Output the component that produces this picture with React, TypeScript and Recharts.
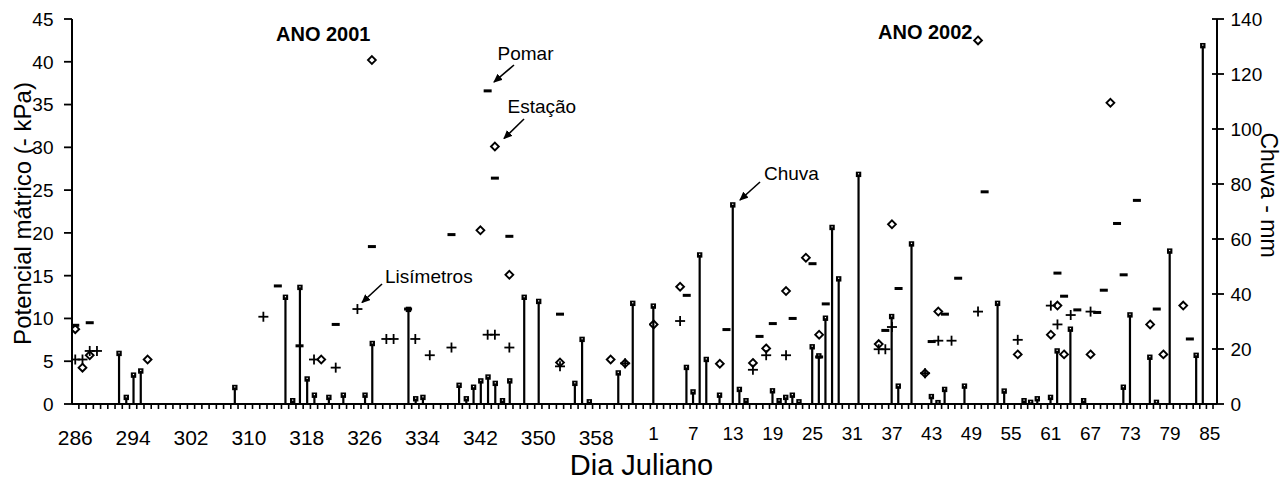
import React from 'react';
import { ComposedChart, Bar, Scatter, XAxis, YAxis } from 'recharts';

type Pt = { d: number; v: number };

const FONT = '"Liberation Sans", Arial, Helvetica, sans-serif';

// ---------- categories / tick labels ----------
const days2001: number[] = [];
for (let d = 286; d <= 365; d++) days2001.push(d);
const days2002: number[] = [];
for (let d = 1; d <= 86; d++) days2002.push(d);

const labelDays2001 = [286, 294, 302, 310, 318, 326, 334, 342, 350, 358];
const labelDays2002 = [1, 7, 13, 19, 25, 31, 37, 43, 49, 55, 61, 67, 73, 79, 85];
const potTicks = [0, 5, 10, 15, 20, 25, 30, 35, 40, 45];
const rainTicks = [0, 20, 40, 60, 80, 100, 120, 140];

// ---------- 2001 ----------
const rain2001: Pt[] = [
  { d: 292, v: 18.4 }, { d: 293, v: 2.4 }, { d: 294, v: 10.5 }, { d: 295, v: 12 },
  { d: 308, v: 6 }, { d: 315, v: 38.8 }, { d: 316, v: 1.2 }, { d: 317, v: 42.4 },
  { d: 318, v: 9.1 }, { d: 319, v: 3.2 }, { d: 321, v: 2.4 }, { d: 323, v: 3.2 },
  { d: 326, v: 3.2 }, { d: 327, v: 22 }, { d: 332, v: 34.4 }, { d: 333, v: 1.9 },
  { d: 334, v: 2.4 }, { d: 339, v: 6.8 }, { d: 340, v: 1.9 }, { d: 341, v: 6.1 },
  { d: 342, v: 8.4 }, { d: 343, v: 9.8 }, { d: 344, v: 7.5 }, { d: 345, v: 1.2 },
  { d: 346, v: 8.4 }, { d: 348, v: 38.8 }, { d: 350, v: 37.3 }, { d: 355, v: 7.5 },
  { d: 356, v: 23.5 }, { d: 357, v: 0.8 }, { d: 361, v: 11.3 }, { d: 363, v: 36.6 },
];
const pomar2001: Pt[] = [
  { d: 286, v: 9.2 }, { d: 288, v: 9.5 }, { d: 314, v: 13.8 }, { d: 317, v: 6.8 },
  { d: 322, v: 9.3 }, { d: 327, v: 18.4 }, { d: 332, v: 11.1 }, { d: 338, v: 19.8 },
  { d: 343, v: 36.6 }, { d: 344, v: 26.4 }, { d: 346, v: 19.6 }, { d: 353, v: 10.5 },
];
const estacao2001: Pt[] = [
  { d: 286, v: 8.75 }, { d: 287, v: 4.25 }, { d: 288, v: 5.7 }, { d: 296, v: 5.2 },
  { d: 320, v: 5.2 }, { d: 327, v: 40.2 }, { d: 342, v: 20.3 }, { d: 344, v: 30.1 },
  { d: 346, v: 15.1 }, { d: 353, v: 4.85 }, { d: 360, v: 5.2 }, { d: 362, v: 4.75 },
];
const lis2001: Pt[] = [
  { d: 286, v: 5.2 }, { d: 287, v: 5.2 }, { d: 288, v: 6.2 }, { d: 289, v: 6.2 },
  { d: 312, v: 10.2 }, { d: 319, v: 5.2 }, { d: 322, v: 4.25 }, { d: 325, v: 11.1 },
  { d: 329, v: 7.6 }, { d: 330, v: 7.6 }, { d: 333, v: 7.6 }, { d: 335, v: 5.7 },
  { d: 338, v: 6.6 }, { d: 343, v: 8.1 }, { d: 344, v: 8.1 }, { d: 346, v: 6.6 },
  { d: 353, v: 4.4 }, { d: 362, v: 4.75 },
];

// ---------- 2002 ----------
const rain2002: Pt[] = [
  { d: 1, v: 35.6 }, { d: 6, v: 13.3 }, { d: 7, v: 4.4 }, { d: 8, v: 54.2 },
  { d: 9, v: 16.2 }, { d: 11, v: 3.2 }, { d: 13, v: 72.4 }, { d: 14, v: 5.3 },
  { d: 15, v: 1.2 }, { d: 19, v: 4.8 }, { d: 20, v: 1.2 }, { d: 21, v: 2.4 },
  { d: 22, v: 3.2 }, { d: 23, v: 0.8 }, { d: 25, v: 20.8 }, { d: 26, v: 17.5 },
  { d: 27, v: 31.2 }, { d: 28, v: 64.2 }, { d: 29, v: 45.5 }, { d: 32, v: 83.5 },
  { d: 37, v: 31.8 }, { d: 38, v: 6.5 }, { d: 40, v: 58.2 }, { d: 43, v: 2.7 },
  { d: 44, v: 0.5 }, { d: 45, v: 5.3 }, { d: 48, v: 6.5 }, { d: 53, v: 36.6 },
  { d: 54, v: 4.7 }, { d: 57, v: 1.2 }, { d: 58, v: 0.6 }, { d: 59, v: 1.9 },
  { d: 61, v: 2.4 }, { d: 62, v: 19.3 }, { d: 64, v: 27.2 }, { d: 66, v: 1.2 },
  { d: 72, v: 6.1 }, { d: 73, v: 32.4 }, { d: 76, v: 17 }, { d: 77, v: 0.6 },
  { d: 79, v: 55.6 }, { d: 83, v: 17.7 }, { d: 84, v: 130.3 },
];
const pomar2002: Pt[] = [
  { d: 6, v: 12.7 }, { d: 12, v: 8.7 }, { d: 17, v: 7.9 }, { d: 19, v: 9.4 },
  { d: 22, v: 10.0 }, { d: 25, v: 16.4 }, { d: 26, v: 5.5 }, { d: 27, v: 11.7 },
  { d: 36, v: 8.6 }, { d: 38, v: 13.5 }, { d: 43, v: 7.3 }, { d: 45, v: 10.5 },
  { d: 47, v: 14.7 }, { d: 51, v: 24.8 }, { d: 62, v: 15.3 }, { d: 63, v: 12.6 },
  { d: 65, v: 11.0 }, { d: 68, v: 10.7 }, { d: 69, v: 13.3 }, { d: 71, v: 21.1 },
  { d: 72, v: 15.1 }, { d: 74, v: 23.8 }, { d: 77, v: 11.1 }, { d: 82, v: 7.6 },
];
const estacao2002: Pt[] = [
  { d: 1, v: 9.3 }, { d: 5, v: 13.7 }, { d: 11, v: 4.7 }, { d: 16, v: 4.8 },
  { d: 18, v: 6.5 }, { d: 21, v: 13.2 }, { d: 24, v: 17.1 }, { d: 26, v: 8.1 },
  { d: 35, v: 7.0 }, { d: 37, v: 21.0 }, { d: 42, v: 3.6 }, { d: 44, v: 10.8 },
  { d: 50, v: 42.5 }, { d: 56, v: 5.8 }, { d: 61, v: 8.1 }, { d: 62, v: 11.5 },
  { d: 63, v: 5.8 }, { d: 67, v: 5.8 }, { d: 70, v: 35.2 }, { d: 76, v: 9.3 },
  { d: 78, v: 5.8 }, { d: 81, v: 11.5 },
];
const lis2002: Pt[] = [
  { d: 5, v: 9.7 }, { d: 16, v: 4.0 }, { d: 18, v: 5.7 }, { d: 21, v: 5.7 },
  { d: 35, v: 6.4 }, { d: 36, v: 6.4 }, { d: 37, v: 9.0 }, { d: 42, v: 3.6 },
  { d: 44, v: 7.4 }, { d: 46, v: 7.4 }, { d: 50, v: 10.8 }, { d: 56, v: 7.5 },
  { d: 61, v: 11.5 }, { d: 62, v: 9.3 }, { d: 64, v: 10.4 }, { d: 67, v: 10.8 },
];

const DOMAIN_2001: [number, number] = [285.55, 365.3];
const DOMAIN_2002: [number, number] = [0.3, 86.1];

const ticks2001 = [
  ...labelDays2001,
  ...days2001.map((d) => d + 0.5).filter((t) => t > DOMAIN_2001[0] && t < DOMAIN_2001[1]),
].sort((a, b) => a - b);
const ticks2002 = [
  ...labelDays2002,
  ...days2002.map((d) => d - 0.5).filter((t) => t > DOMAIN_2002[0] && t < DOMAIN_2002[1]),
].sort((a, b) => a - b);

// ---------- shapes ----------
const RainShape = (p: any) => {
  const { x, y, width, height } = p;
  if (x == null || y == null) return <g />;
  const cx = x + width / 2;
  return (
    <g>
      <rect x={cx - 1.1} y={y} width={2.2} height={Math.max(height, 0)} fill="#000" />
      <rect x={cx - 2.7} y={y - 2.7} width={5.4} height={5.4} fill="#000" />
      <rect x={cx - 0.6} y={y - 1.2} width={1.2} height={1.2} fill="#fff" />
    </g>
  );
};
const DashShape = (p: any) => (
  <rect x={p.cx - 4} y={p.cy - 1.5} width={8} height={3} fill="#000" />
);
const DiamondShape = (p: any) => {
  const { cx, cy } = p;
  const r = 3.9;
  return (
    <polygon
      points={`${cx},${cy - r} ${cx + r},${cy} ${cx},${cy + r} ${cx - r},${cy}`}
      fill="#fff"
      fillOpacity={0}
      stroke="#000"
      strokeWidth={1.9}
    />
  );
};
const PlusShape = (p: any) => {
  const { cx, cy } = p;
  return (
    <g stroke="#000" strokeWidth={1.8}>
      <line x1={cx - 5} y1={cy} x2={cx + 5} y2={cy} />
      <line x1={cx} y1={cy - 5} x2={cx} y2={cy + 5} />
    </g>
  );
};

// ---------- ticks ----------
const makeXTick = (labels: number[], fontSize: number, dy: number) => (p: any) => {
  const { x, y, payload } = p;
  const v = payload.value;
  if (labels.includes(v)) {
    return (
      <text x={x} y={y + dy} textAnchor="middle" fontSize={fontSize} fontFamily={FONT} fill="#000">
        {v}
      </text>
    );
  }
  return <line x1={x} y1={y} x2={x} y2={y + 5} stroke="#000" strokeWidth={1.6} />;
};
const LeftTick = (p: any) => {
  const { x, y, payload } = p;
  return (
    <g>
      <line x1={x - 8} y1={y} x2={x} y2={y} stroke="#000" strokeWidth={1.8} />
      <text x={x - 18.5} y={y} dy="0.36em" textAnchor="end" fontSize={19} fontFamily={FONT} fill="#000">
        {payload.value}
      </text>
    </g>
  );
};
const RightTick = (p: any) => {
  const { x, y, payload } = p;
  return (
    <g>
      <line x1={x - 5} y1={y} x2={x + 7} y2={y} stroke="#000" strokeWidth={1.8} />
      <text x={x + 13.5} y={y} dy="0.36em" textAnchor="start" fontSize={19} fontFamily={FONT} fill="#000">
        {payload.value}
      </text>
    </g>
  );
};

const axisLine = { stroke: '#000', strokeWidth: 2 };

const Arrow = ({ x1, y1, x2, y2 }: { x1: number; y1: number; x2: number; y2: number }) => (
  <line x1={x1} y1={y1} x2={x2} y2={y2} stroke="#000" strokeWidth={1.6} markerEnd="url(#ah)" />
);

export default function App() {
  return (
    <div style={{ position: 'absolute', left: 0, top: 0, width: 1284, height: 482, background: '#fff' }}>
      <div style={{ position: 'absolute', left: 0, top: 0 }}>
        <ComposedChart width={660} height={482} data={rain2001} margin={{ top: 19, right: 11, bottom: 0, left: 12 }}>
          <XAxis
            xAxisId="x"
            dataKey="d"
            type="number"
            domain={DOMAIN_2001}
            allowDataOverflow
            ticks={ticks2001}
            interval={0}
            tickSize={0}
            tickMargin={0}
            tickLine={false}
            axisLine={axisLine}
            height={78}
            tick={makeXTick(labelDays2001, 21, 41)}
          />
          <YAxis
            yAxisId="pot"
            orientation="left"
            width={60}
            type="number"
            domain={[0, 45]}
            allowDataOverflow
            ticks={potTicks}
            interval={0}
            tickSize={0}
            tickMargin={0}
            tickLine={false}
            axisLine={axisLine}
            tick={LeftTick}
          />
          <YAxis yAxisId="rain" orientation="right" hide type="number" domain={[0, 140]} allowDataOverflow />
          <Bar xAxisId="x" yAxisId="rain" dataKey="v" barSize={2} shape={RainShape} isAnimationActive={false} />
          <Scatter xAxisId="x" yAxisId="pot" data={pomar2001} dataKey="v" shape={DashShape} isAnimationActive={false} />
          <Scatter xAxisId="x" yAxisId="pot" data={estacao2001} dataKey="v" shape={DiamondShape} isAnimationActive={false} />
          <Scatter xAxisId="x" yAxisId="pot" data={lis2001} dataKey="v" shape={PlusShape} isAnimationActive={false} />
        </ComposedChart>
      </div>
      <div style={{ position: 'absolute', left: 640, top: 0 }}>
        <ComposedChart width={644} height={482} data={rain2002} margin={{ top: 19, right: 0, bottom: 0, left: 9 }}>
          <XAxis
            xAxisId="x"
            dataKey="d"
            type="number"
            domain={DOMAIN_2002}
            allowDataOverflow
            ticks={ticks2002}
            interval={0}
            tickSize={0}
            tickMargin={0}
            tickLine={false}
            axisLine={axisLine}
            height={78}
            tick={makeXTick(labelDays2002, 19, 36)}
          />
          <YAxis
            yAxisId="pot"
            orientation="left"
            width={0}
            type="number"
            domain={[0, 45]}
            allowDataOverflow
            tick={false}
            tickLine={false}
            axisLine={axisLine}
          />
          <YAxis
            yAxisId="rain"
            orientation="right"
            width={67}
            type="number"
            domain={[0, 140]}
            allowDataOverflow
            ticks={rainTicks}
            interval={0}
            tickSize={0}
            tickMargin={0}
            tickLine={false}
            axisLine={axisLine}
            tick={RightTick}
          />
          <Bar xAxisId="x" yAxisId="rain" dataKey="v" barSize={2} shape={RainShape} isAnimationActive={false} />
          <Scatter xAxisId="x" yAxisId="pot" data={pomar2002} dataKey="v" shape={DashShape} isAnimationActive={false} />
          <Scatter xAxisId="x" yAxisId="pot" data={estacao2002} dataKey="v" shape={DiamondShape} isAnimationActive={false} />
          <Scatter xAxisId="x" yAxisId="pot" data={lis2002} dataKey="v" shape={PlusShape} isAnimationActive={false} />
        </ComposedChart>
      </div>
      <svg
        width={1284}
        height={482}
        style={{ position: 'absolute', left: 0, top: 0, pointerEvents: 'none' }}
        fontFamily={FONT}
      >
        <defs>
          <marker id="ah" markerWidth={9} markerHeight={8} refX={8} refY={4} orient="auto" markerUnits="userSpaceOnUse">
            <path d="M0,0 L9,4 L0,8 z" fill="#000" />
          </marker>
        </defs>
        <text x={276} y={41} fontSize={20} fontWeight="bold" fill="#000">ANO 2001</text>
        <text x={878} y={39} fontSize={20} fontWeight="bold" fill="#000">ANO 2002</text>
        <text x={497.5} y={60} fontSize={19} fill="#000">Pomar</text>
        <Arrow x1={514} y1={65} x2={494} y2={82} />
        <text x={507.5} y={113} fontSize={19} fill="#000">Estação</text>
        <Arrow x1={524} y1={119} x2={504} y2={138.5} />
        <text x={385} y={283} fontSize={19} fill="#000">Lisímetros</text>
        <Arrow x1={382} y1={284} x2={362} y2={302.5} />
        <text x={764} y={180} fontSize={19} fill="#000">Chuva</text>
        <Arrow x1={760} y1={182} x2={740} y2={200} />
        <text transform="translate(31,213.5) rotate(-90)" textAnchor="middle" fontSize={24} fill="#000">
          Potencial mátrico (- kPa)
        </text>
        <text transform="translate(1261,195) rotate(90)" textAnchor="middle" fontSize={23} fill="#000">
          Chuva - mm
        </text>
        <text x={641.5} y={475} textAnchor="middle" fontSize={29} fill="#000">Dia Juliano</text>
      </svg>
    </div>
  );
}
